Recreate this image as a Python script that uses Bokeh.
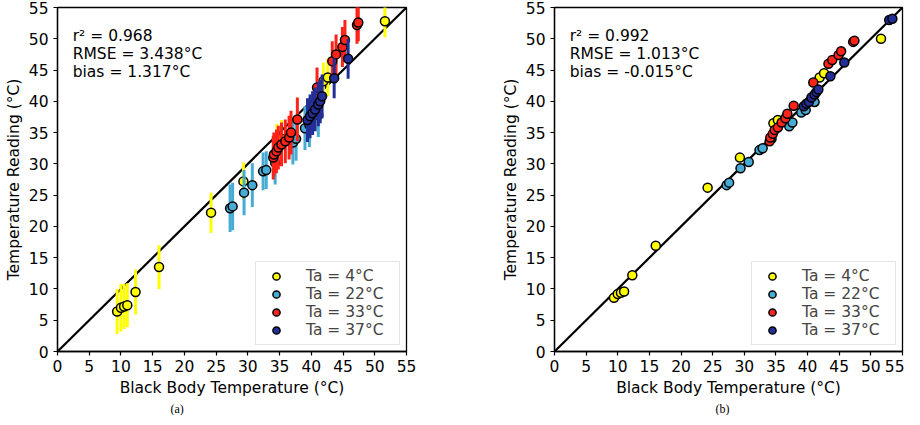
from bokeh.plotting import figure
from bokeh.models import Legend, LegendItem, Label, ColumnDataSource, FixedTicker, Range1d, Title
from bokeh.layouts import row
from bokeh.embed import file_html
from bokeh.resources import INLINE

# ---------------- data ----------------
group_labels = ["Ta = 4°C", "Ta = 22°C", "Ta = 33°C", "Ta = 37°C"]
group_colors = ["#ffff00", "#46acd6", "#ff2318", "#232f96"]

# Ta = 4 °C
bb_4 = [9.4, 10.0, 10.5, 11.0, 12.3, 16.0, 24.2, 29.3, 34.6, 35.3, 41.9, 42.6, 51.6]
raw_4 = [6.4, 7.0, 7.2, 7.4, 9.5, 13.5, 22.2, 27.2, 33.4, 34.0, 43.2, 43.8, 52.8]
err_4 = [3.6, 3.8, 3.6, 3.5, 3.6, 3.5, 3.2, 3.0, 3.0, 3.0, 3.0, 3.0, 2.6]
cal_4 = [8.6, 9.2, 9.4, 9.6, 12.2, 16.9, 26.2, 31.0, 36.5, 37.0, 43.8, 44.5, 50.0]

# Ta = 22 °C
bb_22 = [27.2, 27.6, 29.4, 30.7, 32.4, 32.9, 34.3, 37.1, 37.6, 39.0, 39.7, 41.1]
raw_22 = [22.9, 23.2, 25.4, 26.6, 28.8, 29.0, 30.2, 33.4, 34.0, 35.7, 36.2, 37.8]
err_22 = [3.8, 3.8, 3.6, 3.5, 3.0, 3.0, 3.5, 3.5, 3.5, 3.5, 3.5, 3.5]
cal_22 = [26.6, 27.0, 29.3, 30.3, 32.2, 32.5, 34.0, 36.0, 36.6, 38.2, 38.6, 39.9]

# Ta = 33 °C
bb_33 = [34.0, 34.1, 34.5, 34.8, 35.3, 35.9, 36.5, 36.8, 37.8, 40.9, 43.3, 43.9, 44.9, 45.3, 47.2, 47.4]
raw_33 = [31.0, 31.5, 32.0, 32.6, 33.1, 33.6, 34.2, 35.0, 37.1, 42.2, 46.4, 47.5, 48.7, 49.8, 52.2, 52.6]
err_33 = [3.5, 3.5, 3.5, 3.5, 3.5, 3.5, 3.5, 3.5, 3.5, 3.2, 3.2, 3.2, 3.2, 3.2, 3.0, 3.0]
cal_33 = [33.6, 34.2, 34.8, 35.4, 35.8, 36.6, 37.3, 38.0, 39.3, 43.0, 46.0, 46.6, 47.4, 48.0, 49.5, 49.7]

# Ta = 37 °C
bb_37 = [39.4, 39.8, 40.2, 40.6, 41.1, 41.4, 41.7, 43.6, 45.8, 52.9, 53.4]
raw_37 = [37.0, 37.6, 38.1, 38.7, 39.5, 40.0, 40.8, 43.7, 46.8, 59.0, 59.5]
err_37 = [3.5, 3.5, 3.5, 3.5, 3.5, 3.5, 3.5, 3.2, 3.2, 3.0, 3.0]
cal_37 = [39.2, 39.6, 39.9, 40.6, 41.1, 41.5, 41.9, 44.0, 46.2, 53.0, 53.2]

identity = [0, 55]
axis_ticks = [0, 5, 10, 15, 20, 25, 30, 35, 40, 45, 50, 55]

stats_a = ["r² = 0.968", "RMSE = 3.438°C", "bias = 1.317°C"]
stats_b = ["r² = 0.992", "RMSE = 1.013°C", "bias = -0.015°C"]

x_label = "Black Body Temperature (°C)"
y_label = "Temperature Reading (°C)"
panel_labels = ["(a)", "(b)"]

FONT = "DejaVu Sans"
FS = "15.5px"

raw_sets = [(bb_4, raw_4, err_4), (bb_22, raw_22, err_22), (bb_33, raw_33, err_33), (bb_37, raw_37, err_37)]
cal_sets = [(bb_4, cal_4), (bb_22, cal_22), (bb_33, cal_33), (bb_37, cal_37)]


def make_fig(border_left, border_right, width, caption, caption_offset):
    p = figure(width=width, height=415, output_backend="svg", toolbar_location=None,
               x_range=Range1d(0, 55), y_range=Range1d(0, 55),
               min_border_left=border_left, min_border_right=border_right,
               min_border_top=7, min_border_bottom=63,
               title=Title(text=caption, align="left", offset=caption_offset,
                           text_font="Liberation Serif", text_font_size="12px",
                           text_font_style="normal", text_color="black",
                           standoff=0),
               title_location="below")
    p.xgrid.visible = False
    p.ygrid.visible = False
    p.outline_line_color = "black"
    p.outline_line_width = 1.3
    p.outline_line_alpha = 1
    for ax in (p.xaxis, p.yaxis):
        ax.ticker = FixedTicker(ticks=axis_ticks)
        ax.minor_tick_line_color = None
        ax.major_tick_in = 0
        ax.major_tick_out = 4
        ax.major_tick_line_color = "black"
        ax.major_tick_line_width = 1.2
        ax.axis_line_color = "black"
        ax.axis_line_width = 1.3
        ax.major_label_text_font = FONT
        ax.major_label_text_font_size = FS
        ax.major_label_text_color = "black"
        ax.axis_label_text_font = FONT
        ax.axis_label_text_font_size = FS
        ax.axis_label_text_font_style = "normal"
        ax.axis_label_text_color = "black"
    p.xaxis.axis_label = x_label
    p.yaxis.axis_label = y_label
    p.xaxis.major_label_standoff = 4
    p.yaxis.major_label_standoff = 5
    p.xaxis.axis_label_standoff = 4
    p.yaxis.axis_label_standoff = 3
    p.line(identity, identity, line_color="black", line_width=2.2)
    return p


def add_legend(p, dot_renderers):
    items = []
    for lab, dr in zip(group_labels, dot_renderers):
        items.append(LegendItem(label=lab, renderers=[dr]))
    leg = Legend(items=items, location="bottom_right", margin=6,
                 label_text_font=FONT, label_text_font_size=FS,
                 glyph_width=30, glyph_height=18, label_height=18,
                 spacing=0, padding=5, label_standoff=15, label_width=88,
                 border_line_color="#cccccc", border_line_width=1,
                 background_fill_alpha=0.85)
    p.add_layout(leg)


def add_stats(p, lines):
    p.add_layout(Label(x=2.4, y=51.9, text="\n".join(lines), text_baseline="top",
                       text_font=FONT, text_font_size=FS, text_color="black",
                       text_line_height=1.0))


# ---------------- panel (a) ----------------
pa = make_fig(57, 46, 452, panel_labels[0], 113)
dots_a = []
for (bb, rd, er), col in zip(raw_sets, group_colors):
    src = ColumnDataSource(dict(x=bb, y=rd, lo=[v - e for v, e in zip(rd, er)],
                                hi=[v + e for v, e in zip(rd, er)]))
    pa.segment(x0="x", y0="lo", x1="x", y1="hi", source=src, line_color=col, line_width=3)
    dots_a.append(pa.scatter("x", "y", source=src, size=9, fill_color=col,
                             line_color="black", line_width=1.5))
add_legend(pa, dots_a)
add_stats(pa, stats_a)

# ---------------- panel (b) ----------------
pb = make_fig(102, 2, 452, panel_labels[1], 161)
dots_b = []
for (bb, cv), col in zip(cal_sets, group_colors):
    src = ColumnDataSource(dict(x=bb, y=cv))
    dots_b.append(pb.scatter("x", "y", source=src, size=9, fill_color=col,
                             line_color="black", line_width=1.5))
add_legend(pb, dots_b)
add_stats(pb, stats_b)

layout = row(pa, pb, spacing=0)
open("out.html", "w").write(file_html(layout, INLINE))
